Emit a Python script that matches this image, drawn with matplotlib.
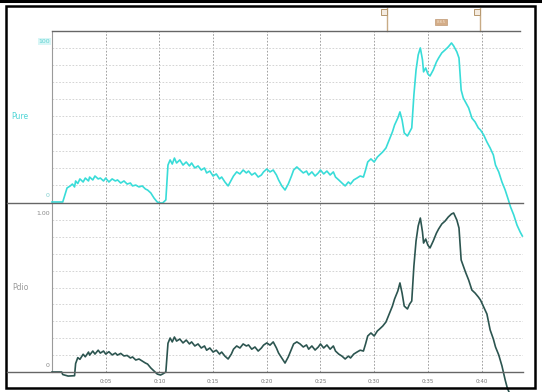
import numpy as np
import matplotlib.pyplot as plt
from matplotlib.lines import Line2D
from matplotlib.patches import Rectangle

# time axis in minutes:seconds style labels, values in percent of full scale
t_pure = [0.0, 0.6, 1.0, 1.2, 1.4, 1.7, 1.9, 2.1, 2.2, 2.4, 2.6, 2.9, 3.1, 3.4, 3.5, 3.8,
          4.0, 4.3, 4.5, 4.8, 5.0, 5.3, 5.6, 5.9, 6.1, 6.4, 6.7, 7.0, 7.3, 7.5, 7.8, 8.1,
          8.4, 8.7, 8.9, 9.2, 9.5, 9.8, 10.1, 10.3, 10.6, 10.8, 11.0, 11.2, 11.4, 11.6,
          11.9, 12.2, 12.5, 12.8, 13.0, 13.3, 13.6, 13.9, 14.2, 14.4, 14.7, 15.0, 15.3,
          15.6, 15.8, 16.1, 16.4, 16.7, 16.9, 17.2, 17.5, 17.8, 18.1, 18.3, 18.6, 18.9,
          19.2, 19.5, 19.7, 20.0, 20.3, 20.6, 20.9, 21.1, 21.4, 21.7, 22.0, 22.3, 22.5,
          22.8, 23.1, 23.4, 23.7, 23.9, 24.2, 24.5, 24.8, 25.0, 25.3, 25.6, 25.9, 26.2,
          26.4, 26.7, 27.0, 27.3, 27.6, 27.8, 28.1, 28.4, 28.7, 29.0, 29.2, 29.4, 29.7,
          30.0, 30.3, 30.5, 30.8, 31.1, 31.4, 31.7, 31.9, 32.2, 32.4, 32.6, 32.8, 33.1,
          33.3, 33.5, 33.7, 33.9, 34.1, 34.3, 34.5, 34.6, 34.8, 35.0, 35.2, 35.5, 35.8,
          36.0, 36.3, 36.6, 36.9, 37.2, 37.4, 37.7, 37.9, 38.1, 38.3, 38.5, 38.8, 39.1,
          39.4, 39.7, 39.9, 40.2, 40.5, 40.8, 41.1, 41.3, 41.6, 41.9, 42.2, 42.5, 42.7,
          43.0, 43.3, 43.6, 43.8]
pure = [0, 0, 0, 4.0, 8.2, 9.4, 10.5, 8.8, 12.3, 10.8, 13.5, 11.7, 14.0, 12.3, 14.6, 12.9,
        15.2, 13.5, 14.0, 12.3, 14.0, 11.7, 13.5, 12.3, 12.9, 11.1, 12.3, 10.5, 11.1, 9.4,
        9.9, 8.8, 9.4, 7.6, 7.0, 5.3, 2.3, 0, -0.6, -0.6, 1.2, 21.6, 24.6, 22.2, 25.7,
        22.8, 24.6, 21.6, 23.4, 21.1, 22.8, 19.9, 21.1, 18.7, 19.9, 17.0, 18.1, 15.2, 16.4,
        13.5, 14.6, 11.7, 9.4, 12.9, 15.2, 17.6, 16.4, 18.7, 17.0, 18.1, 15.8, 17.0, 14.6,
        15.8, 17.6, 19.3, 17.6, 18.7, 15.8, 12.9, 9.4, 7.0, 10.5, 15.2, 18.7, 20.5, 18.7,
        17.0, 18.1, 15.8, 17.6, 15.2, 17.0, 18.7, 16.4, 18.1, 15.8, 17.6, 14.6, 12.9, 11.1,
        9.4, 11.7, 10.5, 12.9, 14.0, 15.2, 14.6, 18.7, 23.4, 25.2, 23.4, 26.3, 27.5, 29.3,
        31.6, 36.3, 41.0, 45.0, 49.1, 52.7, 48.0, 40.4, 38.6, 41.0, 43.3, 62.6, 77.2, 86.0,
        90.1, 83.1, 76.1, 78.4, 74.9, 73.7, 77.2, 81.9, 84.2, 87.2, 88.9, 90.7, 93.0, 91.3,
        87.8, 84.2, 65.5, 60.8, 58.5, 55.0, 49.1, 46.8, 43.3, 42.1, 39.2, 35.1, 31.6, 27.5,
        21.6, 17.6, 11.7, 7.0, 1.2, -2.9, -7.6, -13.5, -17.6, -19.9]

t_pdio = [0.0, 0.9, 1.0, 1.5, 2.1, 2.2, 2.4, 2.6, 2.9, 3.1, 3.4, 3.5, 3.8, 4.0, 4.3, 4.5,
          4.8, 5.0, 5.3, 5.6, 5.9, 6.1, 6.4, 6.7, 7.0, 7.3, 7.5, 7.8, 8.1, 8.4, 8.7, 8.9,
          9.2, 9.5, 9.8, 10.1, 10.3, 10.6, 10.8, 11.0, 11.2, 11.4, 11.6, 11.9, 12.2, 12.5,
          12.8, 13.0, 13.3, 13.6, 13.9, 14.2, 14.4, 14.7, 15.0, 15.3, 15.6, 15.8, 16.1,
          16.4, 16.7, 16.9, 17.2, 17.5, 17.8, 18.1, 18.3, 18.6, 18.9, 19.2, 19.5, 19.7,
          20.0, 20.3, 20.6, 20.9, 21.1, 21.4, 21.7, 22.0, 22.3, 22.5, 22.8, 23.1, 23.4,
          23.7, 23.9, 24.2, 24.5, 24.8, 25.0, 25.3, 25.6, 25.9, 26.2, 26.4, 26.7, 27.0,
          27.3, 27.6, 27.8, 28.1, 28.4, 28.7, 29.0, 29.2, 29.4, 29.7, 30.0, 30.3, 30.5,
          30.8, 31.1, 31.4, 31.7, 31.9, 32.2, 32.4, 32.6, 32.8, 33.1, 33.3, 33.5, 33.7,
          33.9, 34.1, 34.3, 34.5, 34.6, 34.8, 35.0, 35.2, 35.5, 35.8, 36.0, 36.3, 36.6,
          36.9, 37.2, 37.4, 37.7, 37.9, 38.1, 38.3, 38.5, 38.8, 39.1, 39.4, 39.7, 39.9,
          40.2, 40.5, 40.8, 41.1, 41.3, 41.6, 41.9, 42.2, 42.4, 42.7]
pdio = [0, 0, -1.5, -2.4, -2.2, 5.0, 8.5, 7.5, 10.5, 9.0, 11.8, 10.0, 12.4, 10.6, 12.9, 11.2,
        12.4, 10.6, 12.0, 10.1, 11.2, 10.0, 11.0, 9.5, 9.8, 8.3, 8.9, 7.1, 7.7, 6.5, 5.3,
        4.7, 2.4, 0.6, -1.2, -1.8, -1.2, 0, 17.0, 20.1, 17.8, 20.7, 18.3, 19.5, 17.2, 18.9,
        16.6, 17.8, 15.4, 16.6, 14.2, 15.4, 12.9, 14.2, 11.8, 12.9, 10.6, 11.8, 9.4, 7.7,
        10.6, 13.5, 15.4, 14.2, 16.6, 15.4, 16.0, 13.5, 14.8, 12.4, 14.2, 15.9, 17.2, 15.9,
        17.8, 14.2, 11.2, 8.3, 5.3, 8.9, 13.5, 16.6, 17.8, 16.6, 14.8, 16.0, 13.5, 15.4,
        13.0, 14.8, 16.6, 14.2, 16.0, 13.5, 15.4, 12.4, 10.6, 9.4, 7.7, 9.4, 8.3, 10.6,
        11.8, 12.9, 12.4, 16.6, 21.3, 23.1, 21.3, 24.3, 25.4, 27.2, 29.6, 34.3, 39.0, 43.2,
        47.9, 52.7, 46.7, 39.0, 37.3, 40.2, 42.0, 62.7, 77.5, 86.4, 91.1, 82.8, 76.3, 78.7,
        75.1, 73.4, 77.5, 82.2, 84.6, 87.6, 89.3, 91.7, 93.5, 94.1, 89.9, 85.2, 66.3, 62.7,
        59.2, 54.4, 48.5, 46.7, 44.4, 42.6, 38.5, 34.3, 24.9, 19.5, 14.8, 10.1, 3.6, -4.7,
        -9.5, -14.0]

tick_pos = [5, 10, 15, 20, 25, 30, 35, 40]
tick_labels = ['0:05', '0:10', '0:15', '0:20', '0:25', '0:30', '0:35', '0:40']
cursors = [31.2, 39.85]

W, H = 542, 392
fig = plt.figure(figsize=(W / 100, H / 100), dpi=100)
fig.patch.set_facecolor('white')

def fx(px):
    return px / W

def fy(py):
    return 1 - py / H

ax_top = fig.add_axes([fx(52), fy(202), fx(523) - fx(52), fy(31) - fy(202)])
ax_bot = fig.add_axes([fx(52), fy(372), fx(523) - fx(52), fy(203) - fy(372)])

for ax in (ax_top, ax_bot):
    ax.set_xlim(0, 43.86)
    ax.set_ylim(0, 100)
    ax.set_facecolor('none')
    for s in ('top', 'right', 'bottom'):
        ax.spines[s].set_visible(False)
    ax.spines['left'].set_color('#9a9a9a')
    ax.spines['left'].set_linewidth(0.8)
    ax.set_yticks(np.arange(10, 100, 10))
    ax.set_xticks(tick_pos)
    ax.tick_params(length=0, labelleft=False)
    ax.grid(True, axis='y', color='#cdcdcd', lw=0.6, ls=(0, (2, 2)))
    ax.grid(True, axis='x', color='#909090', lw=0.6, ls=(0, (2, 2)))
    ax.set_axisbelow(True)

ax_top.tick_params(labelbottom=False)
ax_bot.set_xticklabels(tick_labels, fontsize=4, color='#777777')
ax_bot.tick_params(axis='x', pad=5)

# outer frame and top rule
frame = Rectangle((fx(6), fy(388)), fx(535) - fx(6), fy(6) - fy(388), fill=False,
                  lw=1.8, edgecolor='black', transform=fig.transFigure)
fig.patches.append(frame)
fig.lines.append(Line2D([0, 1], [fy(1), fy(1)], color='black', lw=2.2,
                        transform=fig.transFigure))

# horizontal rules between and under the panels
fig.lines.append(Line2D([fx(52), fx(520)], [fy(31), fy(31)], color='#666666', lw=1.0,
                        transform=fig.transFigure))
for py in (202.5, 372):
    fig.lines.append(Line2D([fx(7), fx(523)], [fy(py), fy(py)], color='#666666', lw=1.0,
                            transform=fig.transFigure))

l1, = ax_top.plot(t_pure, pure, color='#38dcd8', lw=1.2, clip_on=False, zorder=3)
l2, = ax_bot.plot(t_pdio, pdio, color='#2c5550', lw=1.2, clip_on=False, zorder=3)
l1.set_clip_path(frame)
l2.set_clip_path(frame)

# channel labels
ax_top.text(-0.004, 0.94, '100', transform=ax_top.transAxes, ha='right', va='center',
            fontsize=4.5, color='#5fd3d3',
            bbox=dict(boxstyle='square,pad=0.15', fc='#d9f6f6', ec='none'))
ax_top.text(-0.05, 0.5, 'Pure', transform=ax_top.transAxes, ha='right', va='center',
            fontsize=5.5, color='#4fd6d6')
ax_top.text(-0.006, 0.04, '0', transform=ax_top.transAxes, ha='right', va='center',
            fontsize=4.5, color='#7fcfcf')
ax_bot.text(-0.004, 0.94, '1.00', transform=ax_bot.transAxes, ha='right', va='center',
            fontsize=4.5, color='#888888')
ax_bot.text(-0.05, 0.5, 'Pdio', transform=ax_bot.transAxes, ha='right', va='center',
            fontsize=5.5, color='#999999')
ax_bot.text(-0.006, 0.04, '0', transform=ax_bot.transAxes, ha='right', va='center',
            fontsize=4.5, color='#888888')

# cursor flags above the top panel
for c in cursors:
    ax_top.plot([c, c], [100, 113.5], color='#c8ab85', lw=1.0, clip_on=False)
    ax_top.plot([c - 0.25], [111], marker='s', ms=4, mfc='#f4ebe0', mec='#b5976d',
                mew=0.7, clip_on=False)
mid = (cursors[0] + cursors[1]) / 2 + 0.7
ax_top.text(mid, 105, f'{cursors[1] - cursors[0]:.2f}', ha='center', va='center',
            fontsize=3, color='#f3e3d0', clip_on=False,
            bbox=dict(boxstyle='square,pad=0.25', fc='#d4ad88', ec='#c09a74', lw=0.5))

fig.savefig('out.png', dpi=100)
